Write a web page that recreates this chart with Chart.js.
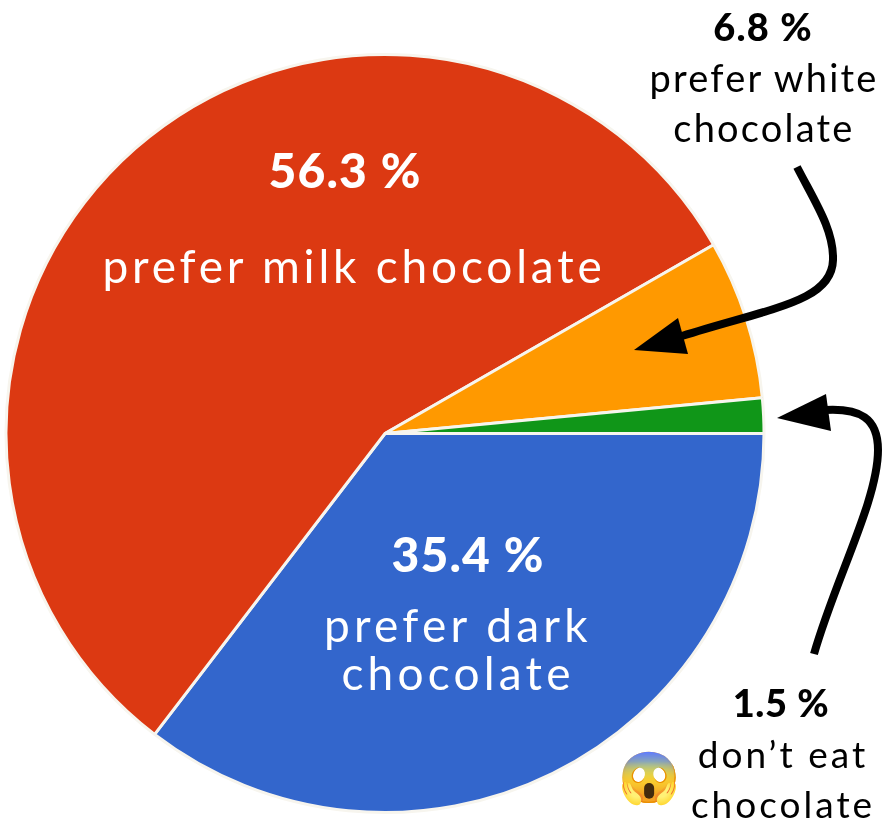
<!DOCTYPE html>
<html>
<head>
<meta charset="utf-8">
<script src="https://cdn.jsdelivr.net/npm/chart.js@4"></script>
<style>
  html, body { margin: 0; padding: 0; background: #fff; }
  #wrap { position: relative; width: 886px; height: 822px; overflow: hidden; font-family: Lato, sans-serif; }
  #pie { position: absolute; left: 0; top: 0; }
  .t { position: absolute; text-align: center; white-space: nowrap; transform: translateX(-50%); }
  .w { color: #fff; }
  .k { color: #000; }
  .b { font-weight: 900; }
  svg { position: absolute; left: 0; top: 0; }
</style>
</head>
<body>
<div id="wrap">
  <canvas id="pie" width="886" height="822"></canvas>
  <svg width="886" height="822">
    <path d="M797 167 C815 202 834 230 833 260 C832 302 770 308 682 336" fill="none" stroke="#000" stroke-width="8"/>
    <polygon points="634,350 678,318 688,354" fill="#000"/>
    <path d="M814 654 C835 580 878 500 878 450 C878 418 860 408 825 410" fill="none" stroke="#000" stroke-width="8"/>
    <polygon points="777,418 826,394 831,431" fill="#000"/>
  </svg>
  <div class="t w b" style="left:345px;top:141px;font-size:48px;letter-spacing:1.2px">56.3 %</div>
  <div class="t w" style="left:354px;top:238px;font-size:46px;letter-spacing:3.8px">prefer milk chocolate</div>
  <div class="t w b" style="left:468px;top:525px;font-size:48px;letter-spacing:1.2px">35.4 %</div>
  <div class="t w" style="left:458px;top:601px;font-size:46px;line-height:48px;letter-spacing:4.2px">prefer dark<br>chocolate</div>
  <div class="t k b" style="left:763px;top:3px;font-size:38px;letter-spacing:1.2px">6.8 %</div>
  <div class="t k" style="left:764px;top:52px;font-size:38px;line-height:50px;letter-spacing:2.2px">prefer white<br>chocolate</div>
  <div class="t k b" style="left:781px;top:679px;font-size:38px;letter-spacing:0.6px">1.5 %</div>
  <div class="t k" style="left:783px;top:729px;font-size:37px;line-height:50px;letter-spacing:3px">don’t eat<br>chocolate</div>
  <div class="t" style="left:649px;top:746px;font-size:50px">😱</div>
</div>
<script>
const categories = ['prefer dark chocolate', 'prefer milk chocolate', 'prefer white chocolate', "don't eat chocolate"];
const shares = [35.4, 56.3, 6.8, 1.5];
const colors = ['#3366cc', '#dc3912', '#ff9900', '#109618'];

new Chart(document.getElementById('pie').getContext('2d'), {
    type: 'pie',
    data: {
        labels: categories,
        datasets: [{
            data: shares,
            backgroundColor: colors,
            borderColor: '#f7f5ee',
            borderWidth: 3
        }]
    },
    options: {
        responsive: false,
        animation: false,
        rotation: 90,
        layout: { padding: { left: 4, right: 120, top: 53, bottom: 8 } },
        plugins: {
            legend: { display: false },
            tooltip: { enabled: false }
        }
    }
});
</script>
</body>
</html>
